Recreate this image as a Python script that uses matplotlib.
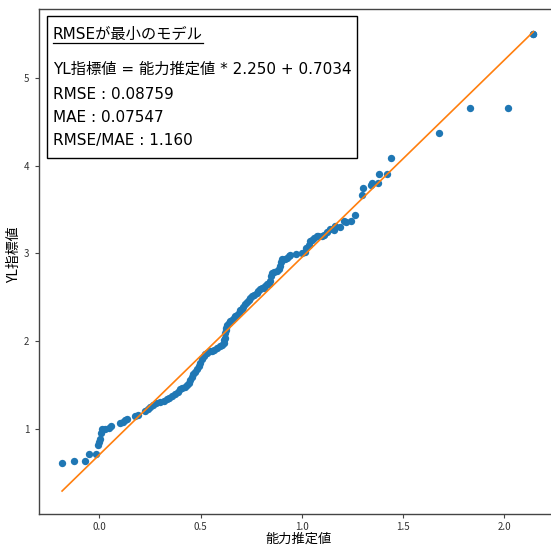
import numpy as np
import matplotlib
matplotlib.use("Agg")
import matplotlib.pyplot as plt
from matplotlib.patches import Rectangle
from matplotlib.lines import Line2D

plt.rcParams['font.family'] = ['Noto Sans CJK JP', 'DejaVu Sans']

# ---- data ----
ability = [
    -0.184, -0.127, -0.069, -0.053, -0.016, -0.008, 0.000, 0.005, 0.008, 0.013,
    0.030, 0.050, 0.056, 0.104, 0.115, 0.128, 0.137, 0.174, 0.189, 0.227,
    0.240, 0.252, 0.265, 0.281, 0.301, 0.318, 0.334, 0.345, 0.359, 0.375,
    0.391, 0.400, 0.408, 0.424, 0.433, 0.441, 0.450, 0.458, 0.465, 0.474,
    0.482, 0.490, 0.499, 0.507, 0.515, 0.523, 0.532, 0.548, 0.556, 0.565,
    0.581, 0.597, 0.605, 0.614, 0.618, 0.622, 0.622, 0.625, 0.627, 0.630,
    0.638, 0.647, 0.655, 0.663, 0.672, 0.680, 0.688, 0.696, 0.704, 0.712,
    0.720, 0.729, 0.737, 0.745, 0.754, 0.762, 0.778, 0.786, 0.795, 0.803,
    0.811, 0.820, 0.828, 0.836, 0.844, 0.848, 0.852, 0.865, 0.877, 0.885,
    0.893, 0.898, 0.902, 0.915, 0.926, 0.935, 0.943, 0.970, 1.000, 1.017,
    1.020, 1.035, 1.041, 1.050, 1.058, 1.074, 1.082, 1.099, 1.112, 1.124,
    1.137, 1.157, 1.165, 1.190, 1.206, 1.220, 1.242, 1.264, 1.296, 1.300,
    1.340, 1.346, 1.377, 1.380, 1.420, 1.441, 1.680, 1.831, 2.020, 2.140,
    2.144,
]
yl_index = [
    0.606, 0.629, 0.629, 0.708, 0.708, 0.814, 0.850, 0.887, 0.955, 1.000,
    1.000, 1.010, 1.030, 1.060, 1.080, 1.100, 1.107, 1.145, 1.160, 1.200,
    1.220, 1.250, 1.266, 1.289, 1.300, 1.316, 1.335, 1.350, 1.372, 1.392,
    1.418, 1.450, 1.460, 1.480, 1.500, 1.520, 1.550, 1.590, 1.620, 1.650,
    1.680, 1.710, 1.750, 1.790, 1.830, 1.850, 1.867, 1.885, 1.890, 1.900,
    1.920, 1.942, 1.960, 1.980, 2.010, 2.040, 2.090, 2.130, 2.150, 2.180,
    2.200, 2.227, 2.245, 2.265, 2.280, 2.300, 2.320, 2.350, 2.370, 2.390,
    2.420, 2.445, 2.470, 2.490, 2.510, 2.530, 2.550, 2.570, 2.590, 2.600,
    2.610, 2.630, 2.645, 2.655, 2.680, 2.740, 2.780, 2.785, 2.797, 2.820,
    2.853, 2.900, 2.930, 2.940, 2.950, 2.970, 2.986, 2.990, 3.006, 3.020,
    3.060, 3.100, 3.138, 3.150, 3.176, 3.200, 3.200, 3.200, 3.210, 3.240,
    3.280, 3.270, 3.310, 3.300, 3.366, 3.360, 3.366, 3.440, 3.670, 3.750,
    3.776, 3.800, 3.800, 3.905, 3.905, 4.083, 4.376, 4.653, 4.653, 5.500,
    5.503,
]
slope = 2.250
intercept = 0.7034

title_text = "RMSEが最小のモデル"
info_lines = [
    "YL指標値 = 能力推定値 * 2.250 + 0.7034",
    "RMSE : 0.08759",
    "MAE : 0.07547",
    "RMSE/MAE : 1.160",
]
x_label = "能力推定値"
y_label = "YL指標値"

# ---- figure ----
W, H = 551, 545
fig = plt.figure(figsize=(W / 100, H / 100), dpi=100)
ax_l, ax_r, ax_t, ax_b = 38.5, 557.0, 8.7, 514.0
ax = fig.add_axes([ax_l / W, 1 - ax_b / H, (ax_r - ax_l) / W, (ax_b - ax_t) / H])

def ay(py):
    return 1 - (py - ax_t) / (ax_b - ax_t)

def axx(px):
    return (px - ax_l) / (ax_r - ax_l)

x = np.array(ability)
y = np.array(yl_index)
ax.scatter(x, y, s=28, color='#1f77b4', linewidths=0, zorder=2)
xl = np.array([x.min(), x.max()])
ax.plot(xl, slope * xl + intercept, color='#ff7f0e', lw=1.2, zorder=3)

ax.set_xticks([0.0, 0.5, 1.0, 1.5, 2.0])
ax.set_xticklabels(["0.0", "0.5", "1.0", "1.5", "2.0"])
ax.set_yticks([1, 2, 3, 4, 5])
ax.set_yticklabels(["1", "2", "3", "4", "5"])
ax.tick_params(labelsize=7, length=3, width=0.8, colors='#444444', labelcolor='#333333')
ax.tick_params(axis='x', pad=2.5)
for sp in ax.spines.values():
    sp.set_color('#444444')
    sp.set_linewidth(1.0)

ax.set_xlabel(x_label, fontsize=9.5)
ax.xaxis.set_label_coords(axx(298.5), ay(539))
ax.xaxis.label.set_va('center')
ax.set_ylabel(y_label, fontsize=10)
ax.yaxis.set_label_coords(axx(14), ay(255))
ax.yaxis.label.set_va('center')

# ---- annotation box ----
box = Rectangle((axx(47), ay(158)), axx(357) - axx(47), ay(16) - ay(158),
                transform=ax.transAxes, facecolor='white', edgecolor='black',
                lw=1.0, zorder=5)
ax.add_patch(box)

fs = 11
box_family = ['DejaVu Sans', 'Noto Sans CJK JP']
t_title = ax.text(axx(53), ay(34), title_text, transform=ax.transAxes,
                  fontsize=fs, va='center', ha='left', zorder=6, family=box_family)
for py, line in zip([69, 94, 117, 140.5], info_lines):
    ax.text(axx(53), ay(py), line, transform=ax.transAxes,
            fontsize=fs, va='center', ha='left', zorder=6, family=box_family)

# underline the title, based on its rendered extent
fig.canvas.draw()
bb = t_title.get_window_extent()
inv = ax.transAxes.inverted()
(x0, _), (x1, _) = inv.transform([(bb.x0, 0), (bb.x1, 0)])
ax.add_line(Line2D([x0, x1], [ay(43), ay(43)], transform=ax.transAxes,
                   color='black', lw=0.9, zorder=6))

fig.savefig("out.png", dpi=100)
